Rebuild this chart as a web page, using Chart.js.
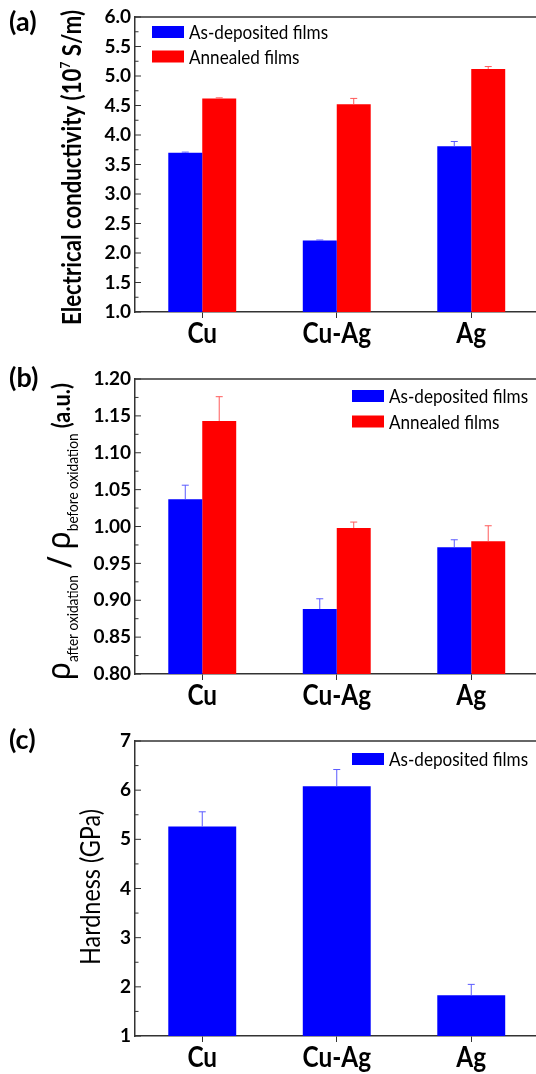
<!DOCTYPE html>
<html>
<head>
<meta charset="utf-8">
<script src="https://cdn.jsdelivr.net/npm/chart.js@4.4.0/dist/chart.umd.min.js"></script>
<style>
  html, body { margin: 0; padding: 0; background: #fff; overflow: hidden; width: 536px; height: 1074px; }
  .panel { position: absolute; left: 0; width: 540px; }
</style>
</head>
<body>
<div class="panel" style="top:0;height:350px"><canvas id="chartA"></canvas></div>
<div class="panel" style="top:350px;height:365px"><canvas id="chartB"></canvas></div>
<div class="panel" style="top:715px;height:359px"><canvas id="chartC"></canvas></div>
<script>
// categories + legend names
const films = ['Cu', 'Cu-Ag', 'Ag'];
const seriesNames = ['As-deposited films', 'Annealed films'];

// (a) electrical conductivity, 10^7 S/m
const condAsDep = [3.70, 2.21, 3.81];
const condAsDepErr = [0.01, 0.01, 0.08];
const condAnneal = [4.62, 4.52, 5.12];
const condAnnealErr = [0.01, 0.10, 0.04];

// (b) rho after / rho before oxidation
const ratioAsDep = [1.037, 0.888, 0.972];
const ratioAsDepErr = [0.019, 0.014, 0.010];
const ratioAnneal = [1.143, 0.998, 0.980];
const ratioAnnealErr = [0.033, 0.008, 0.021];

// (c) hardness, GPa
const hardAsDep = [5.26, 6.08, 1.83];
const hardAsDepErr = [0.30, 0.34, 0.22];

// y tick labels
const yTicksA = [1.0, 1.5, 2.0, 2.5, 3.0, 3.5, 4.0, 4.5, 5.0, 5.5, 6.0];
const yTicksB = [0.80, 0.85, 0.90, 0.95, 1.00, 1.05, 1.10, 1.15, 1.20];
const yTicksC = [1, 2, 3, 4, 5, 6, 7];

const BLUE = '#0000ff', RED = '#ff0000';
const BLUE_ERR = '#5a5aff', RED_ERR = '#ff5a5a';
const AXIS = '#333';

function drawRuns(ctx, runs, x, y0, y1) {
  // rotated rich text, squeezed to fit between y0 (start) and y1 (end)
  ctx.save();
  let total = 0;
  runs.forEach(r => { ctx.font = r.font; r.w = ctx.measureText(r.text).width; total += r.w; });
  const s = (y0 - y1) / total;
  ctx.translate(x, y0);
  ctx.rotate(-Math.PI / 2);
  ctx.scale(s, 1);
  ctx.fillStyle = '#000';
  ctx.textBaseline = 'alphabetic';
  let p = 0;
  runs.forEach(r => { ctx.font = r.font; ctx.fillText(r.text, p, r.dy || 0); p += r.w; });
  ctx.restore();
}

const decor = {
  id: 'decor',
  afterDatasetsDraw(chart, args, o) {
    const ctx = chart.ctx;
    const y = chart.scales.y;
    // error bars (upper half only)
    chart.data.datasets.forEach((ds, i) => {
      const meta = chart.getDatasetMeta(i);
      ctx.save();
      ctx.strokeStyle = ds.errColor;
      ctx.lineWidth = 1;
      meta.data.forEach((bar, j) => {
        const top = y.getPixelForValue(ds.data[j] + ds.errors[j]);
        ctx.beginPath();
        ctx.moveTo(bar.x, bar.y);
        ctx.lineTo(bar.x, top);
        ctx.moveTo(bar.x - 3.5, top);
        ctx.lineTo(bar.x + 3.5, top);
        ctx.stroke();
      });
      ctx.restore();
    });
  },
  afterDraw(chart, args, o) {
    const ctx = chart.ctx;
    const a = chart.chartArea;
    const x = chart.scales.x;
    const y = chart.scales.y;
    ctx.save();
    // top frame line
    ctx.strokeStyle = AXIS;
    ctx.lineWidth = 1.5;
    ctx.beginPath();
    ctx.moveTo(a.left, a.top);
    ctx.lineTo(a.right + 5, a.top);
    ctx.stroke();
    // inward major + minor ticks
    ctx.lineWidth = 1;
    const tv = y.ticks.map(t => t.value);
    tv.forEach((v, k) => {
      const py = y.getPixelForValue(v);
      ctx.beginPath(); ctx.moveTo(a.left, py); ctx.lineTo(a.left + 6, py); ctx.stroke();
      if (k < tv.length - 1) {
        const my = y.getPixelForValue((v + tv[k + 1]) / 2);
        ctx.beginPath(); ctx.moveTo(a.left, my); ctx.lineTo(a.left + 3.5, my); ctx.stroke();
      }
    });
    // category labels, condensed like the original
    ctx.fillStyle = '#000';
    ctx.font = 'bold 28px Lato';
    ctx.textAlign = 'center';
    ctx.textBaseline = 'top';
    chart.data.labels.forEach((lab, i) => {
      const w = ctx.measureText(lab).width;
      ctx.fillText(lab, x.getPixelForTick(i), a.bottom + 8, w * 0.87);
    });
    ctx.textAlign = 'left';
    // legend
    const lg = o.legend;
    chart.data.datasets.forEach((ds, i) => {
      const cy = lg.y + i * lg.gap;
      ctx.fillStyle = ds.backgroundColor;
      ctx.fillRect(lg.x, cy - 6, 32, 12);
      ctx.fillStyle = '#000';
      ctx.font = '19px Lato';
      ctx.textBaseline = 'middle';
      const w = ctx.measureText(ds.label).width;
      ctx.fillText(ds.label, lg.x + 37, cy + 1, w * 0.9);
    });
    // panel label
    ctx.font = 'bold 27px Lato';
    ctx.textBaseline = 'alphabetic';
    ctx.fillStyle = '#000';
    ctx.fillText(o.panel.text, 9, o.panel.y);
    ctx.restore();
    // y title
    drawRuns(ctx, o.title.runs, o.title.x, o.title.y0, o.title.y1);
  }
};

function makeChart(id, datasets, yTicks, decimals, padTop, xHeight, opts) {
  return new Chart(document.getElementById(id), {
    type: 'bar',
    data: { labels: films, datasets },
    plugins: [decor],
    options: {
      responsive: true,
      maintainAspectRatio: false,
      devicePixelRatio: 1,
      animation: false,
      layout: { padding: { top: padTop, right: 1.5, left: 0, bottom: 0 } },
      datasets: { bar: { categoryPercentage: 0.505, barPercentage: 1.0, borderWidth: 0 } },
      plugins: { legend: { display: false }, tooltip: { enabled: false }, decor: opts },
      scales: {
        x: {
          offset: true,
          grid: { display: true, drawOnChartArea: false, drawTicks: true, tickLength: 6, offset: false, color: AXIS },
          border: { color: AXIS, width: 1.5 },
          ticks: { display: false },
          afterFit: s => { s.height = xHeight; }
        },
        y: {
          min: yTicks[0],
          max: yTicks[yTicks.length - 1],
          afterBuildTicks: s => { s.ticks = yTicks.map(v => ({ value: v })); },
          grid: { display: false, drawTicks: false },
          border: { color: AXIS, width: 1.5 },
          ticks: { color: '#000', font: { family: 'Lato', weight: 'bold', size: 19 }, padding: 4,
                   callback: v => Number(v).toFixed(decimals) },
          afterFit: s => { s.width = 135; }
        }
      }
    }
  });
}

makeChart('chartA', [
  { label: seriesNames[0], data: condAsDep, errors: condAsDepErr, backgroundColor: BLUE, errColor: BLUE_ERR },
  { label: seriesNames[1], data: condAnneal, errors: condAnnealErr, backgroundColor: RED, errColor: RED_ERR }
], yTicksA, 1, 17, 38, {
  legend: { x: 152, y: 32, gap: 24.5 },
  panel: { text: '(a)', y: 31 },
  title: { x: 81, y0: 325, y1: 10, runs: [
    { text: 'Electrical conductivity (10', font: 'bold 26px Lato' },
    { text: '7', font: 'bold 14px Lato', dy: -11 },
    { text: ' S/m)', font: 'bold 26px Lato' }
  ] }
});

makeChart('chartB', [
  { label: seriesNames[0], data: ratioAsDep, errors: ratioAsDepErr, backgroundColor: BLUE, errColor: BLUE_ERR },
  { label: seriesNames[1], data: ratioAnneal, errors: ratioAnnealErr, backgroundColor: RED, errColor: RED_ERR }
], yTicksB, 2, 29, 41, {
  legend: { x: 352, y: 46, gap: 25.5 },
  panel: { text: '(b)', y: 37 },
  title: { x: 70, y0: 330, y1: 33, runs: [
    { text: 'ρ', font: '33px "Noto Sans"' },
    { text: 'after oxidation', font: '15px Lato', dy: 8 },
    { text: ' / ', font: 'bold 30px Lato' },
    { text: 'ρ', font: '33px "Noto Sans"' },
    { text: 'before oxidation', font: '15px Lato', dy: 8 },
    { text: ' (a.u.)', font: 'bold 24px Lato' }
  ] }
});

makeChart('chartC', [
  { label: seriesNames[0], data: hardAsDep, errors: hardAsDepErr, backgroundColor: BLUE, errColor: BLUE_ERR }
], yTicksC, 0, 26, 38, {
  legend: { x: 352, y: 44, gap: 25 },
  panel: { text: '(c)', y: 34 },
  title: { x: 100, y0: 250, y1: 94, runs: [
    { text: 'Hardness (GPa)', font: '27px Lato' }
  ] }
});
</script>
</body>
</html>
